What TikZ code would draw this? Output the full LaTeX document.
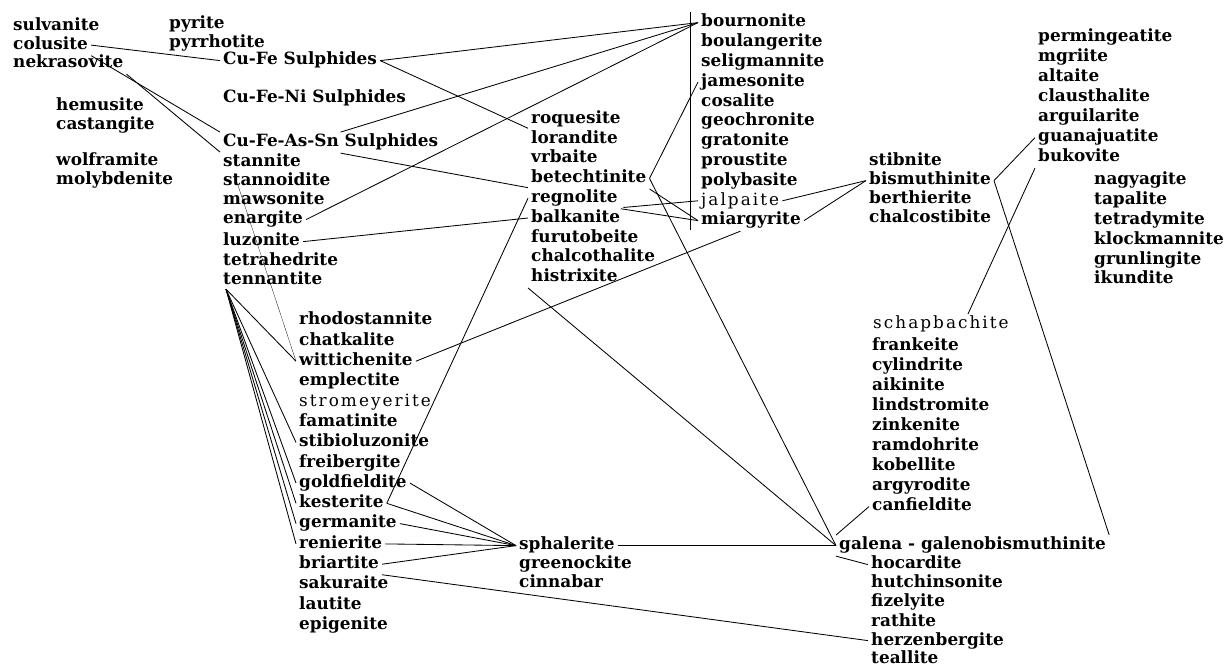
\documentclass[tikz,border=0pt]{standalone}
\usepackage{fontspec}
\setmainfont{DejaVu Serif}
\newfontfamily\thinface[LetterSpace=12]{DejaVu Serif}
\usetikzlibrary{calc}

\tikzset{
  mn/.style={anchor=base west,inner sep=2pt,text height=1.6ex,text depth=.4ex,
    font=\fontsize{12}{14}\selectfont\bfseries},
  mnlight/.style={mn,font=\fontsize{12}{14}\selectfont\thinface}
}

\begin{document}
\begin{tikzpicture}[x=0.025cm,y=-0.025cm,line width=0.6pt]
  \useasboundingbox (0,0) rectangle (1232,668);
  % left columns
  \foreach \nm/\txt [count=\i from 0] in {sulv/sulvanite,colu/colusite,nekr/nekrasovite}
    \node[mn] (\nm) at (10,{31+18.5*\i}) {\txt};
  \foreach \nm/\txt [count=\i from 0] in {hemu/hemusite,cast/castangite}
    \node[mn] (\nm) at (53,{111+19*\i}) {\txt};
  \foreach \nm/\txt [count=\i from 0] in {wolf/wolframite,moly/molybdenite}
    \node[mn] (\nm) at (53,{166+19*\i}) {\txt};
  \foreach \nm/\txt [count=\i from 0] in {pyri/pyrite,pyrr/pyrrhotite}
    \node[mn] (\nm) at (166,{29+18.5*\i}) {\txt};
  \node[mn] (cufe) at (220,65) {Cu-Fe Sulphides};
  \node[mn] (cuni) at (220,103) {Cu-Fe-Ni Sulphides};
  \node[mn] (cuas) at (220,147) {Cu-Fe-As-Sn Sulphides};
  \foreach \nm/\txt [count=\i from 0] in {stann/stannite,stoi/stannoidite,maws/mawsonite,enar/enargite}
    \node[mn] (\nm) at (220,{167+19*\i}) {\txt};
  \foreach \nm/\txt [count=\i from 0] in {luzo/luzonite,tetr/tetrahedrite,tenn/tennantite}
    \node[mn] (\nm) at (220,{246+19.5*\i}) {\txt};
  \foreach \nm/\txt/\sty [count=\i from 0] in {rhod/rhodostannite/mn,chat/chatkalite/mn,
      witt/wittichenite/mn,empl/emplectite/mn,stro/stromeyerite/mnlight,fama/famatinite/mn,
      stbl/stibioluzonite/mn,frei/freibergite/mn,gold/goldfieldite/mn,kest/kesterite/mn,
      germ/germanite/mn,reni/renierite/mn,bria/briartite/mn,saku/sakuraite/mn,
      laut/lautite/mn,epig/epigenite/mn}
    \node[\sty] (\nm) at (296,{325+20.3*\i}) {\txt};
  % middle columns
  \foreach \nm/\txt [count=\i from 0] in {roqu/roquesite,lora/lorandite,vrba/vrbaite,
      bete/betechtinite,regn/regnolite,balk/balkanite,furu/furutobeite,
      chal/chalcothalite,hist/histrixite}
    \node[mn] (\nm) at (528,{123.4+19.8*\i}) {\txt};
  \foreach \nm/\txt/\sty [count=\i from 0] in {bour/bournonite/mn,boul/boulangerite/mn,
      seli/seligmannite/mn,jame/jamesonite/mn,cosa/cosalite/mn,geoc/geochronite/mn,
      grat/gratonite/mn,prou/proustite/mn,poly/polybasite/mn,jalp/jalpaite/mnlight,
      miar/miargyrite/mn}
    \node[\sty] (\nm) at (698,{27+19.8*\i}) {\txt};
  \foreach \nm/\txt [count=\i from 0] in {spha/sphalerite,gree/greenockite,cinn/cinnabar}
    \node[mn] (\nm) at (516,{550+19*\i}) {\txt};
  % right columns
  \foreach \nm/\txt [count=\i from 0] in {stbn/stibnite,bism/bismuthinite,
      bert/berthierite,chco/chalcostibite}
    \node[mn] (\nm) at (866,{166+19*\i}) {\txt};
  \foreach \nm/\txt [count=\i from 0] in {perm/permingeatite,mgri/mgriite,alta/altaite,
      clau/clausthalite,argu/arguilarite,guan/guanajuatite,buko/bukovite}
    \node[mn] (\nm) at (1035,{42+20*\i}) {\txt};
  \foreach \nm/\txt [count=\i from 0] in {nagy/nagyagite,tapa/tapalite,tetd/tetradymite,
      klck/klockmannite,grun/grunlingite,ikun/ikundite}
    \node[mn] (\nm) at (1091,{185+19.8*\i}) {\txt};
  \node[mnlight] (scha) at (870,329) {schapbachite};
  \foreach \nm/\txt [count=\i from 0] in {fran/frankeite,cyli/cylindrite,aiki/aikinite,
      lind/lindstromite,zink/zinkenite,ramd/ramdohrite,kobe/kobellite,
      argy/argyrodite,canf/canfieldite}
    \node[mn] (\nm) at (869,{351+20*\i}) {\txt};
  \node[mn] (gale) at (836,550) {galena - galenobismuthinite};
  \foreach \nm/\txt [count=\i from 0] in {hoca/hocardite,hutc/hutchinsonite,fize/fizelyite,
      rath/rathite,herz/herzenbergite,teal/teallite}
    \node[mn] (\nm) at (868,{569+19*\i}) {\txt};

  % bracket of the sulphosalt column
  \coordinate (fTop) at (690,12);
  \coordinate (fBot) at (690,230);
  \draw (fTop) -- (fBot);

  % links
  \draw (colu.east) -- (cufe.west);
  \draw (colu.south east) -- (cuas.north west);
  \draw (nekr.south east) -- (stann.north west);
  \draw (cufe.east) -- (bour.west);
  \draw (cufe.east) -- (lora.north west);
  \draw ($(cuas.north west)!0.545!(cuas.north east)$) -- (bour.west);
  \draw ($(cuas.south west)!0.545!(cuas.south east)$) -- (regn.north west);
  \draw (enar.east) -- (bour.west);
  \draw (luzo.east) -- (balk.west);
  \draw[very thin] ($(stann.south west)+(14,0)$) -- (witt.west);
  \foreach \t in {witt,stbl,gold,kest,germ,reni}
    \draw ($(tenn.south west)+(6,-2)$) -- (\t.west);
  \draw (kest.east) -- (regn.west);
  \foreach \s in {gold,kest,germ,reni,bria}
    \draw (\s.east) -- (spha.west);
  \draw (bria.south east) -- (herz.west);
  \draw (witt.east) -- ($(miar.south west)!0.4!(miar.south east)$);
  \draw (bete.east) -- (jame.west);
  \draw (bete.east) -- (gale.west);
  \draw (bete.south east) -- (miar.west);
  \draw (regn.south east) -- (miar.west);
  \draw (balk.north east) -- (jalp.west);
  \draw (jalp.east) -- (bism.west);
  \draw (miar.east) -- (bism.west);
  \draw (bism.east) -- (guan.west);
  \draw (bism.east) -- (gale.north east);
  \draw (buko.south west) -- ($(scha.north west)!0.69!(scha.north east)$);
  \draw (hist.south west) -- (gale.west);
  \draw (spha.east) -- (gale.west);
  \draw (gale.north west) -- (canf.west);
  \draw (gale.south west) -- (hoca.west);
\end{tikzpicture}
\end{document}
